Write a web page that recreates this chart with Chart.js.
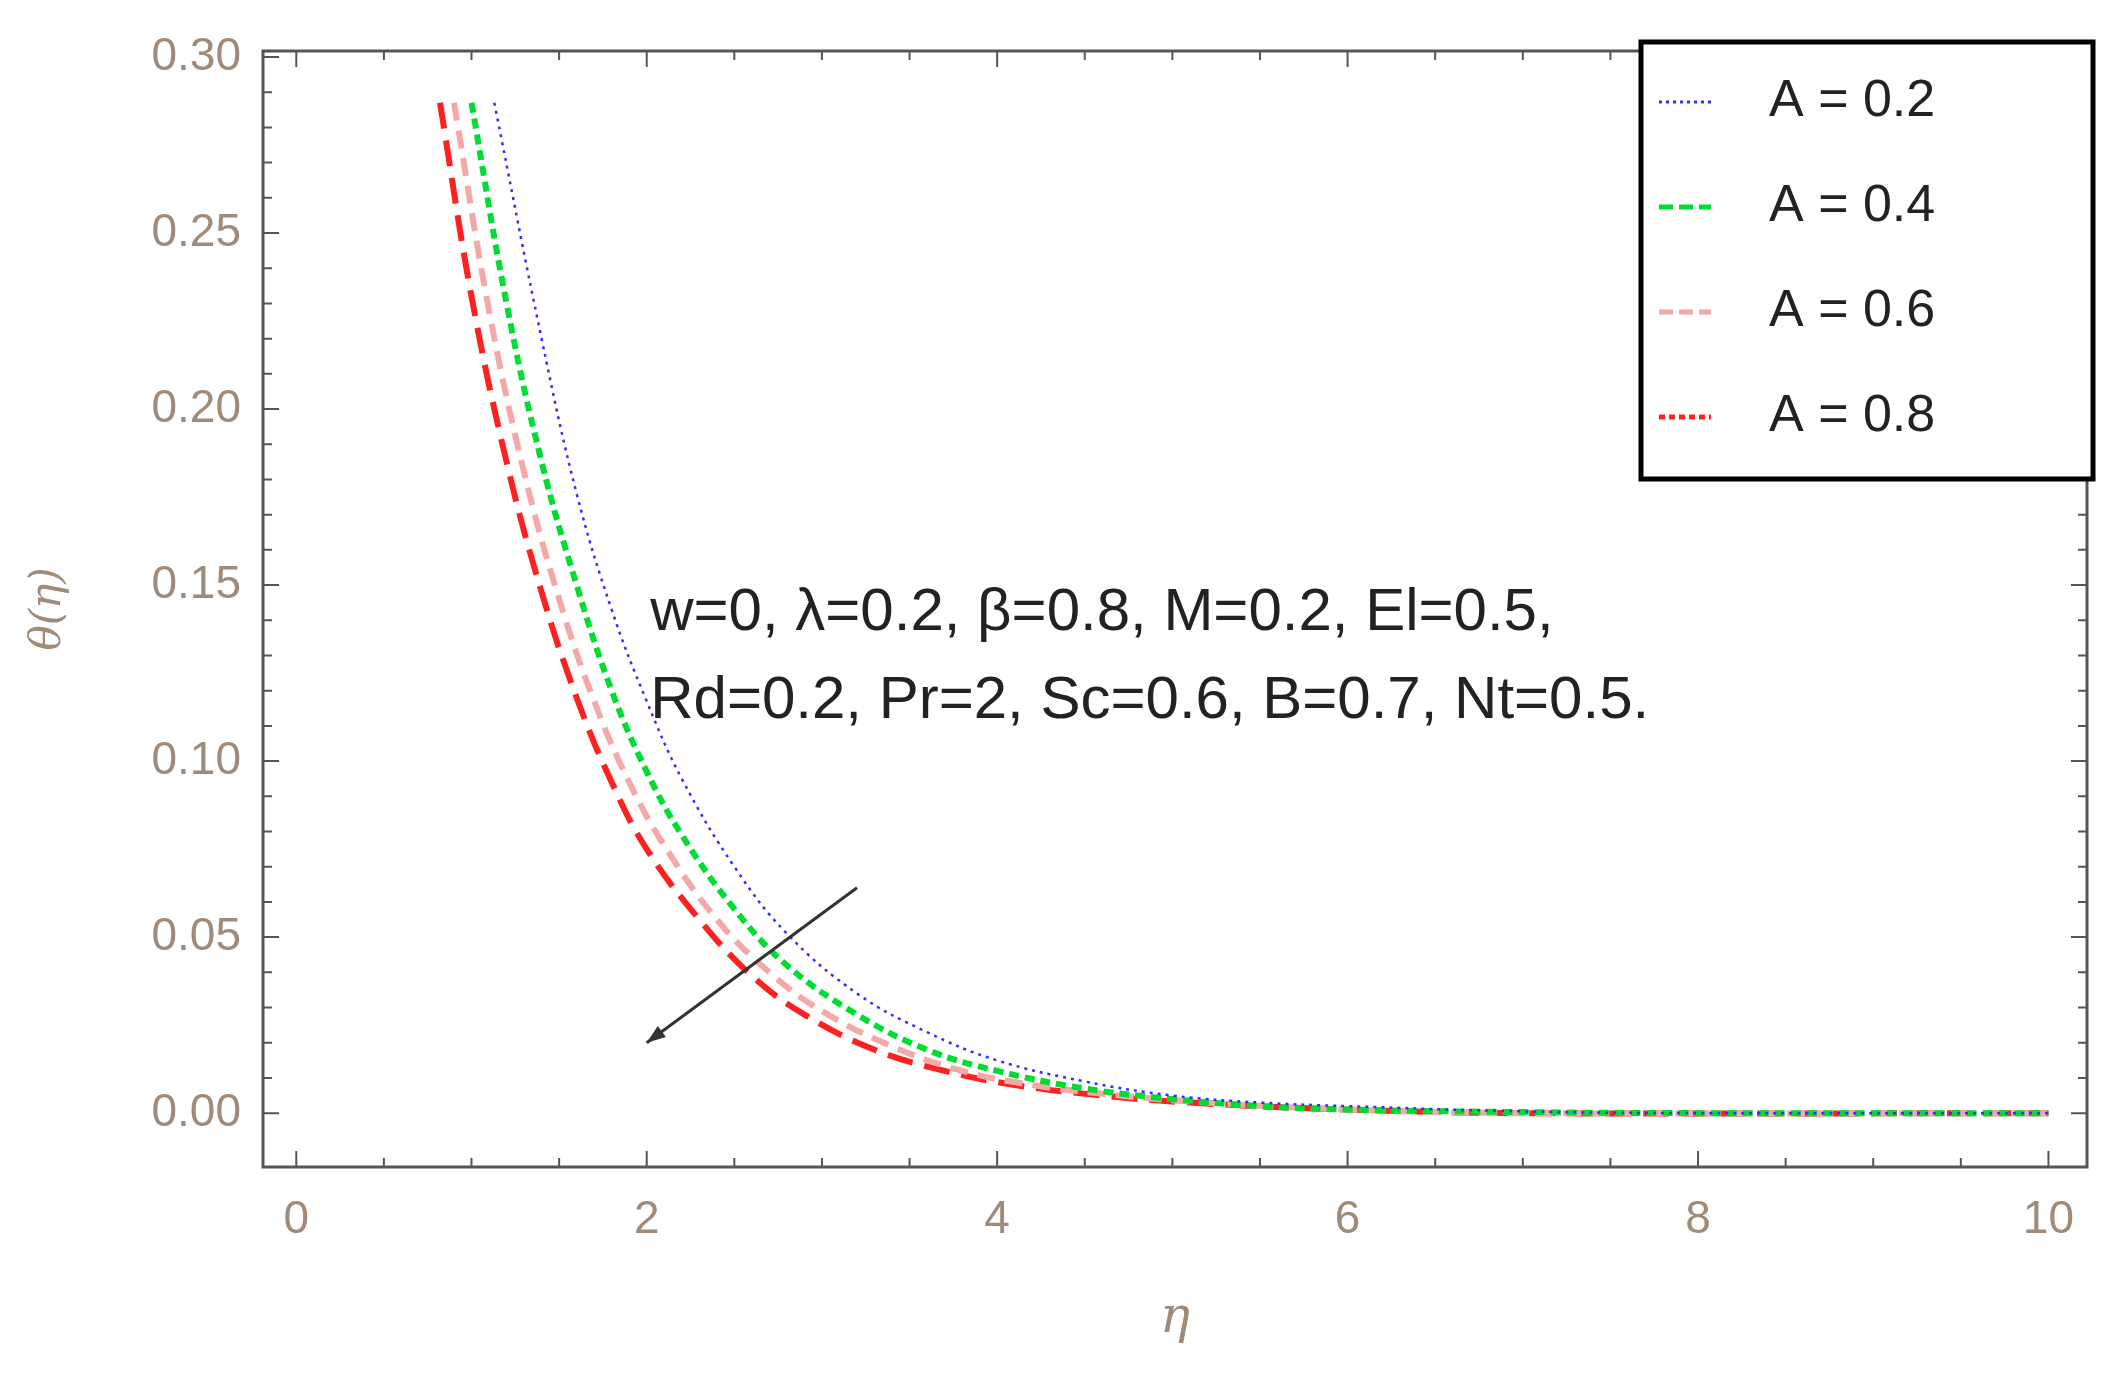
<!DOCTYPE html>
<html><head><meta charset="utf-8">
<script src="https://cdn.jsdelivr.net/npm/chart.js@4"></script>
<style>html,body{margin:0;padding:0;background:#fff}#w{width:2103px;height:1373px}</style>
</head><body><div id="w"><canvas id="c"></canvas></div>
<script>
const seriesLabels = ["A = 0.2","A = 0.4","A = 0.6","A = 0.8"];
const seriesColors = ["#3030ff","#00dd30","#f4a8a8","#ff2020"];
const etaBlue  = [1.13,1.4,1.6,1.8,2.0,2.2,2.5,2.8,3.2,3.6,4.0,4.5,5,5.5,6,7,8,10];
const thBlue   = [.287,.22,.176,.143,.117,.095,.07,.051,.034,.023,.015,.009,.005,.003,.002,.0005,0,0];
const etaGreen = [1.0,1.2,1.4,1.6,1.8,2.0,2.2,2.5,2.8,3.2,3.6,4.0,4.5,5,5.5,6,7,8,10];
const thGreen  = [.287,.23,.185,.15,.12,.097,.079,.058,.042,.028,.018,.012,.007,.004,.002,.001,.0003,0,0];
const etaPink  = [0.9,1.1,1.3,1.5,1.7,1.9,2.1,2.4,2.7,3.0,3.4,3.8,4.2,4.7,5.2,6,7,10];
const thPink   = [.287,.228,.182,.146,.117,.094,.076,.055,.04,.029,.019,.012,.008,.005,.003,.001,0,0];
const etaRed   = [0.82,1.0,1.2,1.4,1.6,1.8,2.0,2.3,2.6,2.9,3.3,3.7,4.1,4.6,5.1,6,7,10];
const thRed    = [.287,.232,.185,.148,.118,.094,.075,.055,.039,.028,.018,.012,.008,.005,.003,.001,0,0];
const xTicks = [0,2,4,6,8,10];
const yTicks = [0,0.05,0.10,0.15,0.20,0.25,0.30];
const note1 = "w=0, λ=0.2, β=0.8, M=0.2, El=0.5,";
const note2 = "Rd=0.2, Pr=2, Sc=0.6, B=0.7, Nt=0.5.";

const pts=(xs,ys)=>xs.map((x,i)=>({x,y:ys[i]}));
const dashes=[[3,5],[10,6],[18,10],[26,12]];
const widths=[2.5,6,6,6];
const all=[[etaBlue,thBlue],[etaGreen,thGreen],[etaPink,thPink],[etaRed,thRed]];
const lab="#a08a78";
const decor={id:'decor',afterDraw(ch){
  const c=ch.ctx,a=ch.chartArea,xs=ch.scales.x,ys=ch.scales.y;
  c.save();
  c.strokeStyle="#555";c.lineWidth=3;c.strokeRect(a.left,a.top,a.right-a.left,a.bottom-a.top);
  c.lineWidth=2;
  for(let v=0;v<=10.001;v+=0.5){const x=xs.getPixelForValue(v),L=(Math.round(v*2)%4===0)?16:9;
    c.beginPath();c.moveTo(x,a.bottom);c.lineTo(x,a.bottom-L);c.moveTo(x,a.top);c.lineTo(x,a.top+L);c.stroke();}
  for(let v=0;v<=0.3001;v+=0.01){const y=ys.getPixelForValue(v),L=(Math.round(v*100)%5===0)?16:9;
    c.beginPath();c.moveTo(a.left,y);c.lineTo(a.left+L,y);c.moveTo(a.right,y);c.lineTo(a.right-L,y);c.stroke();}
  const x1=xs.getPixelForValue(3.2),y1=ys.getPixelForValue(0.064),x2=xs.getPixelForValue(2.0),y2=ys.getPixelForValue(0.02);
  c.strokeStyle="#333";c.lineWidth=3;c.beginPath();c.moveTo(x1,y1);c.lineTo(x2,y2);c.stroke();
  const ang=Math.atan2(y2-y1,x2-x1);c.fillStyle="#333";c.beginPath();c.moveTo(x2,y2);
  c.lineTo(x2-20*Math.cos(ang-0.35),y2-20*Math.sin(ang-0.35));c.lineTo(x2-20*Math.cos(ang+0.35),y2-20*Math.sin(ang+0.35));c.fill();
  c.fillStyle="#222";c.font="60px 'Liberation Sans', Arial";c.textBaseline="middle";
  c.fillText(note1,xs.getPixelForValue(2.02),ys.getPixelForValue(0.142));
  c.fillText(note2,xs.getPixelForValue(2.02),ys.getPixelForValue(0.117));
  const lx=1641,ly=42,lw=452,lh=437;
  c.fillStyle="#fff";c.fillRect(lx,ly,lw,lh);c.strokeStyle="#000";c.lineWidth=5;c.strokeRect(lx,ly,lw,lh);
  seriesLabels.forEach((t,i)=>{const y=ly+60+i*105;
    c.strokeStyle=seriesColors[i];c.lineWidth=i==0?3:5;c.setLineDash(i==0?[3,4]:i==3?[6,4]:[14,6]);
    c.beginPath();c.moveTo(lx+18,y);c.lineTo(lx+70,y);c.stroke();c.setLineDash([]);
    c.fillStyle="#222";c.font="52px 'Liberation Sans', Arial";c.fillText(t,lx+128,y);});
  c.restore();}};
new Chart(document.getElementById('c'),{type:'line',
 data:{datasets:all.map((d,i)=>({label:seriesLabels[i],data:pts(d[0],d[1]),borderColor:seriesColors[i],
   borderWidth:widths[i],borderDash:dashes[i],pointRadius:0,tension:0.4,fill:false}))},
 options:{responsive:true,maintainAspectRatio:false,animation:false,
  layout:{padding:{top:51,right:16,left:20,bottom:20}},
  plugins:{legend:{display:false},tooltip:{enabled:false}},
  scales:{
   x:{type:'linear',min:-0.19,max:10.22,grid:{display:false},border:{display:false},
     afterBuildTicks:s=>{s.ticks=xTicks.map(v=>({value:v}));},
     afterFit:s=>{s.height=186;},
     ticks:{color:lab,font:{size:46,family:"'Liberation Sans', Arial"},padding:18,maxRotation:0},
     title:{display:true,text:'η',color:lab,font:{size:50,style:'italic',family:"'DejaVu Serif'"},padding:{top:30}}},
   y:{type:'linear',min:-0.0153,max:0.3017,grid:{display:false},border:{display:false},
     afterBuildTicks:s=>{s.ticks=yTicks.map(v=>({value:v}));},
     afterFit:s=>{s.width=243;},
     ticks:{color:lab,font:{size:46,family:"'Liberation Sans', Arial"},padding:14,callback:v=>v.toFixed(2)},
     title:{display:true,text:'θ(η)',color:lab,font:{size:42,style:'italic',family:"'DejaVu Serif'"},padding:{bottom:10}}}}},
 plugins:[decor]});
</script></body></html>
